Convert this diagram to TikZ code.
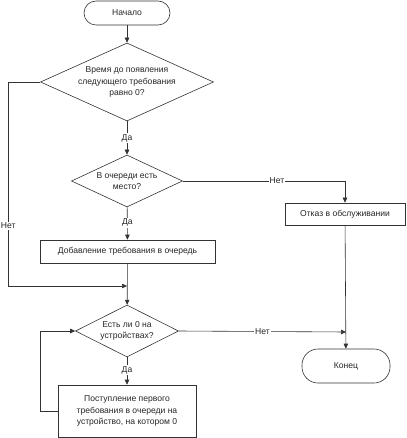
\documentclass[tikz,border=0pt]{standalone}
\usepackage{fontspec}
\setmainfont{Liberation Sans}
\usetikzlibrary{shapes.geometric,arrows.meta}
\begin{document}
\begin{tikzpicture}[x=1bp,y=-1bp,
  every node/.style={font=\fontsize{8.6}{11.7}\selectfont, text=black!85},
  base/.style={draw=black!80, line width=0.6pt, inner sep=0pt},
  term/.style={base, rounded corners=12bp},
  proc/.style={base, align=center},
  dia/.style={base, shape=diamond},
  txt/.style={align=center, inner sep=0pt},
  lbl/.style={fill=white, inner sep=1pt},
  line/.style={draw=black!80, line width=0.6pt},
  arr/.style={line, -{Triangle[width=4.5bp,length=5bp]}}]
\useasboundingbox (0,0) rectangle (406,438);
\node[term, minimum width=86bp, minimum height=24bp] (start) at (127,13) {Начало};
\node[dia, minimum width=173bp, minimum height=78bp] (d1) at (127,82) {};
\node[txt] at (d1) {Время до появления\\следующего требования\\равно 0?};
\node[dia, minimum width=111bp, minimum height=52bp] (d2) at (127,181) {};
\node[txt] at (d2) {В очереди есть\\место?};
\node[proc, minimum width=175bp, minimum height=23bp] (b1) at (127.5,251.5) {Добавление требования в очередь};
\node[proc, minimum width=120bp, minimum height=22bp] (b2) at (345,214) {Отказ в обслуживании};
\node[dia, minimum width=103bp, minimum height=52bp] (d3) at (127,331) {};
\node[txt] at (d3) {Есть ли 0 на\\устройствах?};
\node[proc, minimum width=138bp, minimum height=52bp] (b3) at (127,411) {Поступление первого\\требования в очереди на\\устройство, на котором 0};
\node[term, minimum width=88bp, minimum height=34bp, rounded corners=16bp] (end) at (346,366) {Конец};
\coordinate (m) at (127,286);
\coordinate (j) at (346,332);
\draw[arr] (start) -- (d1);
\draw[arr] (d1) -- node[lbl, pos=0.5] {Да} (d2);
\draw[arr] (d2) -- node[lbl, pos=0.48] {Да} (b1);
\draw[arr] (b1) -- (d3);
\draw[arr] (d1.west) -- ++(-32,0) |- node[lbl, pos=0.353] {Нет} (m);
\draw[arr] (d2.east) -| node[lbl, pos=0.29] {Нет} (b2.north);
\draw[arr] (b2) -- (end);
\draw[arr] (d3.east) -- node[lbl, pos=0.5] {Нет} (j);
\draw[arr] (d3) -- node[lbl, pos=0.47] {Да} (b3);
\draw[arr] (b3.west) -- ++(-17,0) |- (d3.west);
\end{tikzpicture}
\end{document}
